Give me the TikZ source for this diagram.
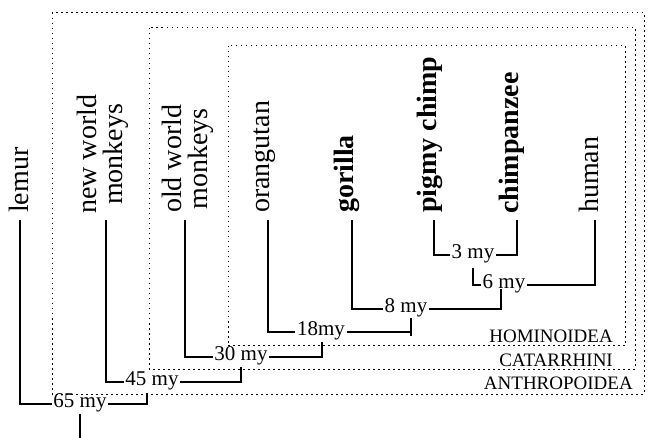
\documentclass[tikz,border=0pt]{standalone}
\usepackage{fontspec}
\setmainfont{Liberation Serif}
\usetikzlibrary{calc}
\begin{document}
\begin{tikzpicture}[x=1pt,y=-1pt,
  leafone/.style={rotate=90,anchor=west,inner sep=0pt,font=\fontsize{28}{26}\selectfont,text height=0.7em,text depth=0.2em},
  bleafone/.style={leafone,font=\fontsize{28}{26}\selectfont\bfseries},
  leaftwo/.style={rotate=90,anchor=west,inner sep=0pt,font=\fontsize{28}{26}\selectfont,align=center},
  age/.style={inner sep=1.5pt,font=\fontsize{21}{21}\selectfont,text height=1.5ex,text depth=0pt},
  grp/.style={anchor=east,inner sep=0pt,font=\fontsize{19}{19}\selectfont},
  br/.style={line width=1.1pt},
  bbr/.style={line width=2.6pt},
  grpbox/.style={line width=1pt,dash pattern=on 1.5pt off 3.5pt}]
\useasboundingbox (0,0) rectangle (648,438);

% group boxes
\draw[grpbox] (52,13) rectangle (644,394);
\draw[grpbox] (149,28) rectangle (635,369);
\draw[grpbox] (228,46) rectangle (625,346);
\node[grp] (hom) at (613,336) {HOMINOIDEA};
\node[grp] (cat) at (613,360) {CATARRHINI};
\node[grp] (ant) at (633,383) {ANTHROPOIDEA};

% leaves
\node[leafone] (lemur) at (26,213) {lemur};
\node[leaftwo] (nwm) at (103,214) {new world\\monkeys};
\node[leaftwo] (owm) at (188,213) {old world\\monkeys};
\node[leafone] (orang) at (267,213) {orangutan};
\node[bleafone] (gor) at (351,213) {gorilla};
\node[bleafone] (pig) at (434,213) {pigmy chimp};
\node[bleafone] (chimp) at (516,214) {chimpanzee};
\node[leafone] (human) at (596,213) {human};

% ages
\node[age] (a65) at (80,404) {65 my};
\node[age] (a45) at (152,382) {45 my};
\node[age] (a30) at (241,357) {30 my};
\node[age] (a18) at (321,332) {18my};
\node[age] (a8) at (406,309) {8 my};
\node[age] (a6) at (504,285) {6 my};
\node[age] (a3) at (473,255) {3 my};
\coordinate (root) at (80,438);

% connectors
\draw[br] ([shift={(-6,7)}]lemur.west) |- (a65.west);
\draw[br] (a65.east) -| ([shift={(-5,6)}]a45.south);
\draw[br] ([shift={(3,6)}]nwm.west) |- (a45.west);
\draw[br] (a45.east) -| ([shift={(0,5)}]a30.south);
\draw[br] ([shift={(-3,7)}]owm.west) |- (a30.west);
\draw[br] (a30.east) -| ([shift={(1,5)}]a18.south);
\draw[br] ([shift={(1,7)}]orang.west) |- (a18.west);
\draw[br] (a18.east) -| ([shift={(5,4)}]a8.south);
\draw[bbr] ([shift={(5,4)}]a8.south) -- ([shift={(5,4)}]a8.south |- a18.east);
\draw[bbr] ([shift={(1,7)}]gor.west) |- (a8.west);
\draw[bbr] (a8.east) -| ([shift={(-3,-1)}]a6.south);
\draw[bbr] ([shift={(0,7)}]pig.west) |- (a3.west);
\draw[bbr] (a3.east) -| ([shift={(1,6)}]chimp.west);
\draw[bbr] ([shift={(0,8)}]a3.south) |- (a6.west);
\draw[bbr] (a6.east) -| ([shift={(-1,7)}]human.west);
\draw[br] ([shift={(0,5)}]a65.south) -- (root);
\end{tikzpicture}
\end{document}
